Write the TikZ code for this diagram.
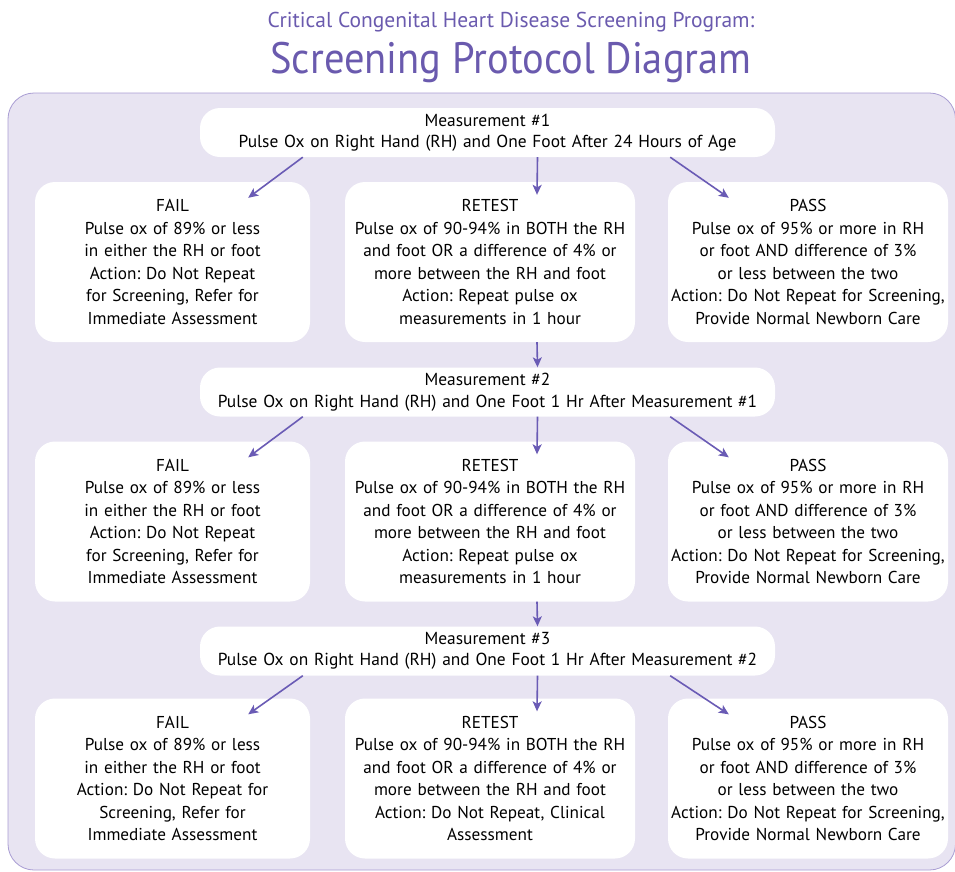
\documentclass[tikz,border=0pt]{standalone}
\usepackage{fontspec}
\setmainfont{PT Sans}
\newfontfamily\titlefont[FakeStretch=0.92]{PT Sans}
\usetikzlibrary{arrows.meta}
\frenchspacing

\definecolor{ccpurple}{HTML}{6A5AAE}
\definecolor{ccarrow}{HTML}{6A5BB5}
\definecolor{ccpanel}{HTML}{E8E4F2}
\definecolor{ccedge}{HTML}{A99DD3}

\tikzset{
    panel/.style={fill=ccpanel, draw=ccedge, line width=0.8pt, rounded corners=26pt},
    stepbox/.style={fill=white, rounded corners=20pt, align=center, inner sep=0pt,
        text width=#1, minimum height=160pt, font=\fontsize{17.2}{22.5}\selectfont},
    measbox/.style={fill=white, rounded corners=20pt, align=center, inner sep=0pt,
        text width=575pt, minimum height=49pt, font=\fontsize{17.4}{21.5}\selectfont},
    arr/.style={draw=ccarrow, line width=1.6pt, -{Stealth[length=10pt,width=9pt,inset=2.5pt]}}
}

\begin{document}
\begin{tikzpicture}[x=1pt, y=-1pt]
    \useasboundingbox (0,0) rectangle (955,871);
    % titles
    \node[text=ccpurple, font=\fontsize{21.5}{24}\selectfont] (sub) at (511,22)
        {Critical Congenital Heart Disease Screening Program:};
    \node[text=ccpurple, font=\titlefont\fontsize{44}{48}\selectfont] (ttl) at (511,62)
        {Screening Protocol Diagram};
    % background
    \path[panel] (8,93) rectangle (955.5,870);
    % measurements
    \node[measbox] (m1) at (487.5,132.5) {Measurement \#1\\Pulse Ox on Right Hand (RH) and One Foot After 24 Hours of Age};
    \node[measbox] (m2) at (487.5,392) {Measurement \#2\\Pulse Ox on Right Hand (RH) and One Foot 1 Hr After Measurement \#1};
    \node[measbox] (m3) at (487.5,651) {Measurement \#3\\Pulse Ox on Right Hand (RH) and One Foot 1 Hr After Measurement \#2};
    % row 1
    \node[stepbox=275pt] (f1) at (172.5,262) {FAIL\\Pulse ox of 89\% or less\\in either the RH or foot\\Action: Do Not Repeat\\for Screening, Refer for\\Immediate Assessment};
    \node[stepbox=290pt] (r1) at (490,262) {RETEST\\Pulse ox of 90-94\% in BOTH the RH\\and foot OR a difference of 4\% or\\more between the RH and foot\\Action: Repeat pulse ox\\measurements in 1 hour};
    \node[stepbox=280pt] (p1) at (808,262) {PASS\\Pulse ox of 95\% or more in RH\\or foot AND difference of 3\%\\or less between the two\\Action: Do Not Repeat for Screening,\\Provide Normal Newborn Care};
    % row 2
    \node[stepbox=275pt] (f2) at (172.5,521.5) {FAIL\\Pulse ox of 89\% or less\\in either the RH or foot\\Action: Do Not Repeat\\for Screening, Refer for\\Immediate Assessment};
    \node[stepbox=290pt] (r2) at (490,521.5) {RETEST\\Pulse ox of 90-94\% in BOTH the RH\\and foot OR a difference of 4\% or\\more between the RH and foot\\Action: Repeat pulse ox\\measurements in 1 hour};
    \node[stepbox=280pt] (p2) at (808,521.5) {PASS\\Pulse ox of 95\% or more in RH\\or foot AND difference of 3\%\\or less between the two\\Action: Do Not Repeat for Screening,\\Provide Normal Newborn Care};
    % row 3
    \node[stepbox=275pt] (f3) at (172.5,778.5) {FAIL\\Pulse ox of 89\% or less\\in either the RH or foot\\Action: Do Not Repeat for\\Screening, Refer for\\Immediate Assessment};
    \node[stepbox=290pt] (r3) at (490,778.5) {RETEST\\Pulse ox of 90-94\% in BOTH the RH\\and foot OR a difference of 4\% or\\more between the RH and foot\\Action: Do Not Repeat, Clinical\\Assessment};
    \node[stepbox=280pt] (p3) at (808,778.5) {PASS\\Pulse ox of 95\% or more in RH\\or foot AND difference of 3\%\\or less between the two\\Action: Do Not Repeat for Screening,\\Provide Normal Newborn Care};
    % arrows
    \foreach \i in {1,2,3}
    {
        \draw[arr] ([xshift=103pt]m\i.south west) -- ([xshift=-62pt,yshift=-16pt]f\i.north east);
        \draw[arr] ([xshift=50pt]m\i.south) -- ([xshift=47pt,yshift=-13pt]r\i.north);
        \draw[arr] ([xshift=-105pt]m\i.south east) -- ([xshift=61pt,yshift=-16pt]p\i.north west);
    }
    \foreach \i/\j in {1/2,2/3}
        \draw[arr] ([xshift=47pt]r\i.south) -- ([xshift=50pt]m\j.north);
\end{tikzpicture}
\end{document}
